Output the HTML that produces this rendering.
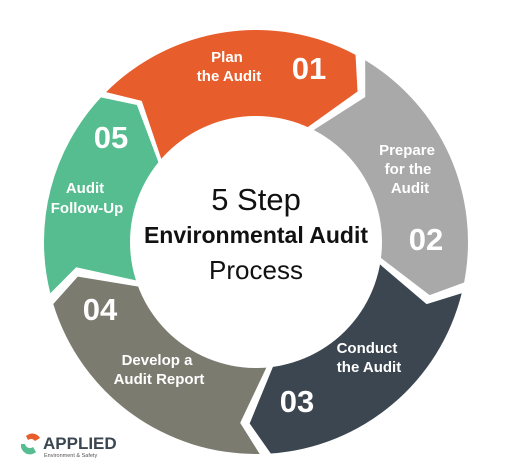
<!DOCTYPE html>
<html><head><meta charset="utf-8"><style>
html,body{margin:0;padding:0;background:#fff;}
svg{display:block;}
text{font-family:"Liberation Sans",sans-serif;}
</style></head><body>
<svg id="c" width="527" height="474" viewBox="0 0 527 474">
<g id="segs"></g>
<circle cx="256" cy="242" r="126" fill="#fff"/>
<g fill="#fff" font-weight="bold" text-anchor="middle">
<text x="227" y="62" font-size="15">Plan</text>
<text x="229" y="81" font-size="15">the Audit</text>
<text x="309" y="79" font-size="31">01</text>
<text x="407" y="155" font-size="15">Prepare</text>
<text x="408" y="174" font-size="15">for the</text>
<text x="410" y="193" font-size="15">Audit</text>
<text x="426" y="250" font-size="31">02</text>
<text x="367" y="353" font-size="15">Conduct</text>
<text x="369" y="372" font-size="15">the Audit</text>
<text x="297" y="412" font-size="31">03</text>
<text x="157" y="365" font-size="15">Develop a</text>
<text x="159" y="384" font-size="15">Audit Report</text>
<text x="100" y="320" font-size="31">04</text>
<text x="85" y="193" font-size="15">Audit</text>
<text x="87" y="213" font-size="15">Follow-Up</text>
<text x="111" y="148" font-size="31">05</text>
</g>
<g fill="#111" text-anchor="middle">
<text x="256" y="210" font-size="31">5 Step</text>
<text x="256" y="243" font-size="23" font-weight="bold">Environmental Audit</text>
<text x="256" y="279" font-size="26">Process</text>
</g>
<g>
<path d="M26 436 A9 9 0 0 1 40 438 L35 441 A5 5 0 0 0 28 440 Z" fill="#e85d2c"/>
<path d="M21 444 A9 9 0 0 0 36 452 L33 447 A5 5 0 0 1 25 444 Z" fill="#55bd8f"/>
<text x="43" y="449" font-size="17" font-weight="bold" fill="#3b4650">APPLIED</text>
<text x="44" y="457" font-size="5.5" fill="#555">Environment &amp; Safety</text>
</g>
</svg>
<script>
const steps=["Plan","Prepare","Conduct","Report","Follow-Up"];
const startAngles=[-45,31,104,179,256];
const endAngles=[28,101,176,253,313];
const colors=["#e85d2c","#a9a9a9","#3b4650","#7c7b70","#55bd8f"];
const cx=256,cy=242,R=212,r=125,rt=r+0.65*(R-r);
function pt(a,rad){const t=(a-90)*Math.PI/180;return [cx+rad*Math.cos(t),cy+rad*Math.sin(t)];}
const g=document.getElementById('segs');
for(let i=0;i<steps.length;i++){
 const a=startAngles[i],b=endAngles[i];
 const o1=pt(a,R),o2=pt(b,R),tip=pt(b+6,rt),i2=pt(b-4,r),i1=pt(a-4,r),notch=pt(a+6,rt);
 const d=`M${o1} A${R} ${R} 0 0 1 ${o2} L${tip} L${i2} A${r} ${r} 0 0 0 ${i1} L${notch} Z`;
 const p=document.createElementNS('http://www.w3.org/2000/svg','path');
 p.setAttribute('d',d);p.setAttribute('fill',colors[i]);
 
 
 g.appendChild(p);
}
</script>
</body></html>
